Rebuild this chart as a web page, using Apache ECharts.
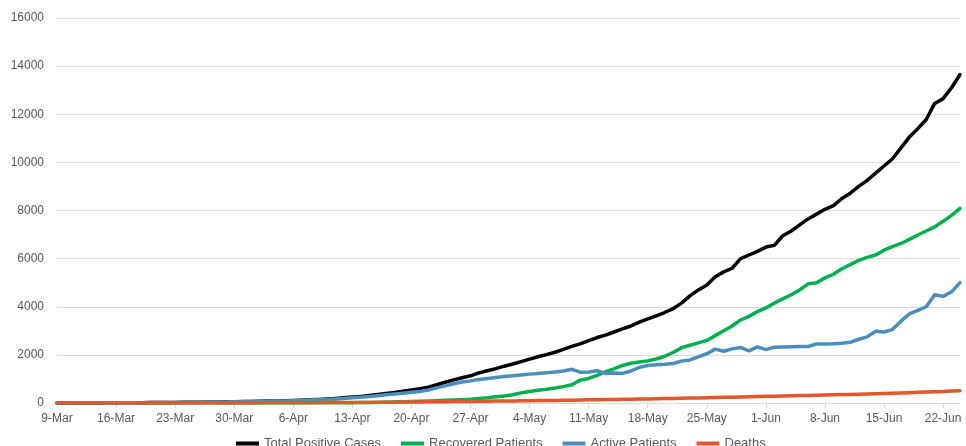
<!DOCTYPE html>
<html>
<head>
<meta charset="utf-8">
<script src="https://cdn.jsdelivr.net/npm/echarts@6/dist/echarts.min.js"></script>
<style>
html,body{margin:0;padding:0;background:#fff;}
#chart{width:966px;height:446px;}
</style>
</head>
<body>
<div id="chart"></div>
<script>
const categories = [
"9-Mar","10-Mar","11-Mar","12-Mar","13-Mar","14-Mar","15-Mar","16-Mar","17-Mar","18-Mar","19-Mar","20-Mar","21-Mar","22-Mar","23-Mar","24-Mar","25-Mar","26-Mar","27-Mar","28-Mar","29-Mar","30-Mar","31-Mar",
"1-Apr","2-Apr","3-Apr","4-Apr","5-Apr","6-Apr","7-Apr","8-Apr","9-Apr","10-Apr","11-Apr","12-Apr","13-Apr","14-Apr","15-Apr","16-Apr","17-Apr","18-Apr","19-Apr","20-Apr","21-Apr","22-Apr","23-Apr","24-Apr","25-Apr","26-Apr","27-Apr","28-Apr","29-Apr","30-Apr",
"1-May","2-May","3-May","4-May","5-May","6-May","7-May","8-May","9-May","10-May","11-May","12-May","13-May","14-May","15-May","16-May","17-May","18-May","19-May","20-May","21-May","22-May","23-May","24-May","25-May","26-May","27-May","28-May","29-May","30-May","31-May",
"1-Jun","2-Jun","3-Jun","4-Jun","5-Jun","6-Jun","7-Jun","8-Jun","9-Jun","10-Jun","11-Jun","12-Jun","13-Jun","14-Jun","15-Jun","16-Jun","17-Jun","18-Jun","19-Jun","20-Jun","21-Jun","22-Jun","23-Jun","24-Jun"
];

const totalPositive = [
0,0,0,2,2,4,6,6,9,11,
14,16,19,21,24,27,30,33,38,42,
47,52,58,64,70,78,86,95,105,118,
132,148,168,190,215,245,275,310,350,395,
440,490,540,590,660,760,860,960,1050,1130,
1250,1340,1430,1530,1620,1720,1825,1920,2010,2110,
2230,2350,2460,2590,2720,2820,2950,3080,3200,3360,
3500,3620,3760,3920,4150,4450,4700,4900,5250,5450,
5600,6000,6150,6300,6480,6550,6950,7150,7400,7650,
7850,8050,8200,8500,8720,9000,9250,9550,9850,10150,
10600,11050,11400,11780,12450,12650,13100,13650
];

const recovered = [
0,0,0,0,0,0,0,0,0,0,
0,0,0,0,0,0,0,0,0,0,
0,0,0,0,0,0,2,3,4,5,
6,7,8,10,12,14,16,18,22,30,
40,50,65,75,85,95,110,120,135,155,
190,220,260,290,340,420,480,530,570,620,
680,760,950,1020,1150,1300,1420,1560,1650,1700,
1750,1830,1940,2100,2300,2400,2500,2600,2800,3000,
3200,3450,3600,3800,3950,4150,4330,4500,4700,4950,
5000,5200,5350,5580,5750,5930,6050,6150,6350,6500,
6630,6800,6980,7150,7320,7550,7800,8090
];

const active = [
0,0,0,2,2,4,6,6,9,11,
14,16,19,21,24,27,29,32,37,41,
45,50,55,60,66,73,80,88,97,108,
120,134,150,170,192,218,242,270,305,340,
375,410,445,480,540,630,710,800,870,920,
980,1020,1060,1100,1130,1160,1200,1230,1260,1290,
1330,1400,1280,1290,1340,1230,1250,1230,1330,1480,
1560,1590,1610,1640,1740,1790,1920,2050,2240,2150,
2250,2310,2170,2330,2220,2320,2330,2340,2350,2350,
2450,2450,2460,2480,2520,2650,2750,2980,2950,3050,
3400,3700,3850,4000,4500,4430,4620,5000
];

const deaths = [
0,0,0,0,0,0,0,0,0,0,
0,0,0,0,0,1,1,1,2,2,
3,4,5,5,6,7,8,9,10,11,
12,14,16,17,19,21,23,25,28,31,
34,37,40,43,47,51,55,59,63,67,
71,75,79,83,87,91,95,100,104,109,
114,119,124,130,135,141,147,153,159,165,
171,177,184,191,198,205,212,220,228,236,
244,252,260,268,276,284,292,300,308,316,
324,332,340,349,358,367,376,385,394,405,
418,430,442,455,468,480,495,510
];

const seriesNames = ["Total Positive Cases","Recovered Patients","Active Patients","Deaths"];
const seriesColors = ["#000000","#00B050","#4A8EBE","#E4572A"];
const seriesData = [totalPositive, recovered, active, deaths];

const chart = echarts.init(document.getElementById('chart'), null, {renderer:'canvas'});
const font = "'Liberation Sans', Arial, sans-serif";
chart.setOption({
  animation:false,
  backgroundColor:'#ffffff',
  grid:{left:57, right:6, top:18, bottom:43, containLabel:false},
  legend:{
    left:231, top:432,
    itemWidth:23, itemHeight:4, itemGap:20,
    icon:'rect',
    textStyle:{fontFamily:font, fontSize:13, color:'#595959'},
    data:seriesNames
  },
  xAxis:{
    type:'category',
    data:categories,
    boundaryGap:false,
    axisLine:{lineStyle:{color:'#D9D9D9', width:1}},
    axisTick:{show:true, interval:6, length:5, lineStyle:{color:'#D9D9D9'}},
    axisLabel:{interval:6, fontFamily:font, fontSize:12, color:'#595959', margin:10},
    splitLine:{show:false}
  },
  yAxis:{
    type:'value',
    min:0, max:16000, interval:2000,
    axisLine:{show:false},
    axisTick:{show:false},
    axisLabel:{fontFamily:font, fontSize:12, color:'#595959', margin:13, formatter:function(v){return String(v);}},
    splitLine:{lineStyle:{color:'#D9D9D9', width:1}}
  },
  series: seriesNames.map((n,i)=>({
    name:n,
    type:'line',
    data:seriesData[i],
    symbol:'none',
    smooth:false,
    lineStyle:{width:3.5, color:seriesColors[i], cap:'round', join:'round'},
    itemStyle:{color:seriesColors[i]}
  }))
});
</script>
</body>
</html>
